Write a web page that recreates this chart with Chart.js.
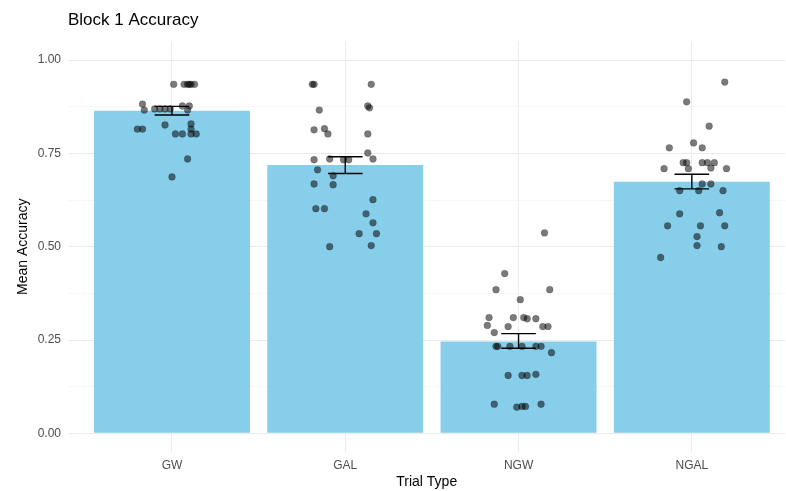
<!DOCTYPE html>
<html>
<head>
<meta charset="utf-8">
<script src="https://cdn.jsdelivr.net/npm/chart.js@4"></script>
<style>
  html, body { margin: 0; padding: 0; background: #fff; overflow: hidden; }
  #wrap { width: 790px; height: 491px; position: relative; }
</style>
</head>
<body>
<div id="wrap"><canvas id="myChart"></canvas></div>
<script>
// trial types and the mean accuracy per type
const categories = ["GW", "GAL", "NGW", "NGAL"];
const means = [0.864, 0.719, 0.246, 0.674];
// standard error bars
const errLow = [0.853, 0.696, 0.228, 0.655];
const errHigh = [0.876, 0.741, 0.267, 0.694];
const yTicks = [0, 0.25, 0.5, 0.75, 1];

// participant points: jitter offset (category units) and accuracy
const gwJitter = [0.01, 0.07, 0.09, 0.10, 0.11, 0.13, -0.17, -0.16, -0.10, -0.07, -0.04, -0.01, 0.06, 0.10, 0.09, -0.20, -0.17, -0.04, 0.02, 0.06, 0.11, 0.11, 0.11, 0.14, 0.09, 0.00];
const gwAcc = [0.935, 0.935, 0.935, 0.935, 0.935, 0.935, 0.882, 0.866, 0.869, 0.869, 0.869, 0.869, 0.877, 0.877, 0.866, 0.815, 0.815, 0.826, 0.802, 0.802, 0.829, 0.815, 0.802, 0.802, 0.735, 0.687];
const galJitter = [-0.19, -0.18, 0.15, -0.15, 0.13, 0.14, -0.18, -0.12, -0.10, 0.13, -0.18, -0.09, -0.01, 0.02, 0.13, 0.16, -0.16, -0.07, -0.18, -0.07, 0.16, -0.17, -0.12, 0.12, 0.16, 0.08, 0.18, -0.09, 0.15];
const galAcc = [0.935, 0.935, 0.935, 0.866, 0.877, 0.872, 0.813, 0.816, 0.802, 0.802, 0.733, 0.735, 0.733, 0.733, 0.751, 0.735, 0.706, 0.690, 0.668, 0.666, 0.626, 0.602, 0.602, 0.588, 0.564, 0.535, 0.535, 0.500, 0.503];
const ngwJitter = [0.15, -0.08, -0.13, 0.18, 0.01, -0.17, -0.03, 0.03, 0.05, 0.10, -0.18, -0.06, 0.14, 0.17, -0.14, -0.13, -0.12, -0.05, 0.02, 0.10, 0.13, 0.19, -0.06, 0.02, 0.05, 0.10, -0.14, -0.01, 0.02, 0.04, 0.13];
const ngwAcc = [0.537, 0.428, 0.385, 0.385, 0.358, 0.310, 0.310, 0.310, 0.307, 0.307, 0.289, 0.286, 0.286, 0.286, 0.270, 0.233, 0.233, 0.233, 0.233, 0.233, 0.233, 0.216, 0.155, 0.155, 0.155, 0.158, 0.078, 0.070, 0.072, 0.072, 0.078];
const ngalJitter = [0.19, -0.03, 0.10, 0.01, 0.06, -0.13, -0.05, -0.03, 0.06, 0.09, 0.13, -0.16, -0.02, 0.11, 0.20, 0.06, 0.11, -0.07, 0.04, 0.18, -0.07, 0.16, -0.14, 0.05, 0.19, 0.03, 0.03, 0.17, -0.18];
const ngalAcc = [0.941, 0.888, 0.823, 0.778, 0.765, 0.765, 0.725, 0.725, 0.725, 0.725, 0.725, 0.709, 0.709, 0.711, 0.709, 0.668, 0.668, 0.650, 0.650, 0.650, 0.588, 0.591, 0.556, 0.556, 0.556, 0.527, 0.503, 0.500, 0.471];

const jitters = [gwJitter, galJitter, ngwJitter, ngalJitter];
const accs = [gwAcc, galAcc, ngwAcc, ngalAcc];

let points = [];
jitters.forEach((jit, i) => {
  jit.forEach((j, k) => points.push({x: i + j, y: accs[i][k]}));
});

const capWidth = 0.2;

// draws the error bars using the chart scales
const errorBars = {
  id: "errorBars",
  afterDatasetsDraw(chart) {
    const ctx = chart.ctx;
    const x = chart.scales.x, y = chart.scales.y;
    ctx.save();
    ctx.strokeStyle = "#000";
    ctx.lineWidth = 1.4;
    categories.forEach((c, i) => {
      const cx = x.getPixelForValue(i);
      const left = x.getPixelForValue(i - capWidth / 2);
      const right = x.getPixelForValue(i + capWidth / 2);
      const lo = y.getPixelForValue(errLow[i]);
      const hi = y.getPixelForValue(errHigh[i]);
      ctx.beginPath();
      ctx.moveTo(cx, lo); ctx.lineTo(cx, hi);
      ctx.moveTo(left, lo); ctx.lineTo(right, lo);
      ctx.moveTo(left, hi); ctx.lineTo(right, hi);
      ctx.stroke();
    });
    ctx.restore();
  }
};

const font = "'Liberation Sans', Arial, sans-serif";

new Chart("myChart", {
  type: "bar",
  data: {
    datasets: [
      {
        type: "bar",
        data: categories.map((c, i) => ({x: i, y: means[i]})),
        backgroundColor: "#87CEEB",
        borderWidth: 0,
        barPercentage: 0.9,
        categoryPercentage: 1,
        order: 2
      },
      {
        type: "scatter",
        data: points,
        backgroundColor: "rgba(0,0,0,0.52)",
        borderColor: "rgba(0,0,0,0.3)",
        borderWidth: 0.6,
        pointRadius: 3.4,
        order: 1
      }
    ]
  },
  options: {
    responsive: true,
    maintainAspectRatio: false,
    animation: false,
    devicePixelRatio: 1,
    layout: { padding: { left: 0, right: 0, top: 0, bottom: 0 } },
    plugins: {
      legend: { display: false },
      tooltip: { enabled: false },
      title: {
        display: true,
        text: "Block 1 Accuracy",
        align: "start",
        fullSize: false,
        color: "#000",
        font: { family: font, size: 17, weight: "normal" },
        padding: { top: 10, bottom: 11 }
      }
    },
    scales: {
      x: {
        type: "linear",
        min: -0.6,
        max: 3.54,
        offset: false,
        afterBuildTicks: s => { s.ticks = categories.map((c, i) => ({value: i})); },
        afterFit: s => { s.height = 39; },
        ticks: {
          callback: v => categories[v],
          color: "#4d4d4d",
          font: { family: font, size: 12 },
          padding: 6,
          maxRotation: 0
        },
        grid: { color: "#ebebeb", drawTicks: false, offset: false },
        border: { display: false },
        title: {
          display: true,
          text: "Trial Type",
          color: "#000",
          font: { family: font, size: 14 },
          padding: { top: 1, bottom: 0 }
        }
      },
      y: {
        min: -0.05,
        max: 1.05,
        afterBuildTicks: s => {
          const t = [];
          for (let k = 0; k <= 8; k++) t.push({value: k * 0.125});
          s.ticks = t;
        },
        afterFit: s => { s.width = 68; },
        ticks: {
          callback: v => (yTicks.includes(Math.round(v * 1000) / 1000) ? v.toFixed(2) : ""),
          color: "#4d4d4d",
          font: { family: font, size: 12 },
          padding: 7
        },
        grid: {
          drawTicks: false,
          color: c => (Math.round(c.tick.value * 1000) % 250 === 0 ? "#ebebeb" : "#f5f5f5"),
          lineWidth: c => (Math.round(c.tick.value * 1000) % 250 === 0 ? 1 : 0.8)
        },
        border: { display: false },
        title: {
          display: true,
          text: "Mean Accuracy",
          color: "#000",
          font: { family: font, size: 14 },
          padding: { top: 15, bottom: 0 }
        }
      }
    }
  },
  plugins: [errorBars]
});
</script>
</body>
</html>
